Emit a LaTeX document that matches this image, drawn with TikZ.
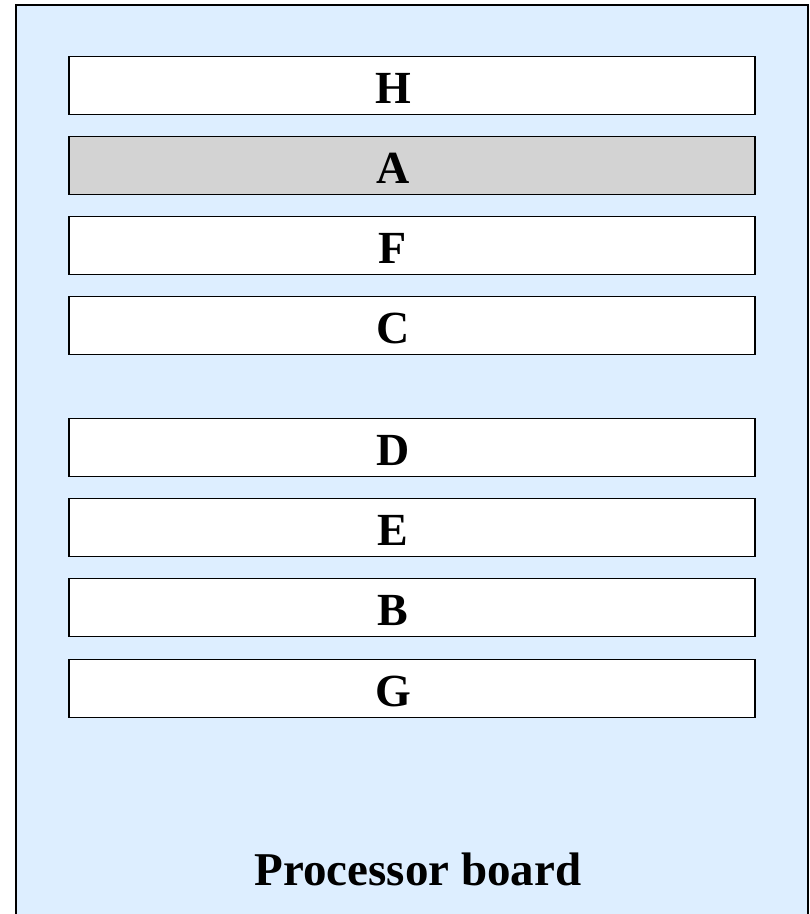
\documentclass[tikz,border=0pt]{standalone}
\usepackage{fontspec}
\setmainfont{Liberation Serif}
\definecolor{boardblue}{RGB}{221,238,255}
\definecolor{slotgray}{RGB}{211,211,211}
\begin{document}
\begin{tikzpicture}[x=1pt,y=-1pt,
  slot/.style={draw=black,line width=1.8pt,fill=white,minimum width=686pt,minimum height=58pt,inner sep=0pt,anchor=north west},
  slottext/.style={font=\fontsize{46}{46}\selectfont\bfseries,anchor=base,inner sep=0pt}]
\useasboundingbox (0,0) rectangle (810,914);
\fill[boardblue] (15.5,4.5) rectangle (808,914);
\draw[line width=2pt] (15.5,914) -- (15.5,4.5) -- (808,4.5) -- (808,914);
\foreach \nm/\y/\fc in {H/55.5/white,A/135.5/slotgray,F/215.5/white,C/295.5/white,D/417.5/white,E/497.5/white,B/577.5/white,G/658.5/white}{
  \node[slot,fill=\fc] (\nm) at (68,\y) {};
  \node[slottext] (\nm t) at (393,\y+47.5) {\nm};
}
\node[font=\fontsize{47}{47}\selectfont\bfseries,anchor=base,inner sep=0pt] (label) at (418,885) {Processor board};
\end{tikzpicture}
\end{document}
